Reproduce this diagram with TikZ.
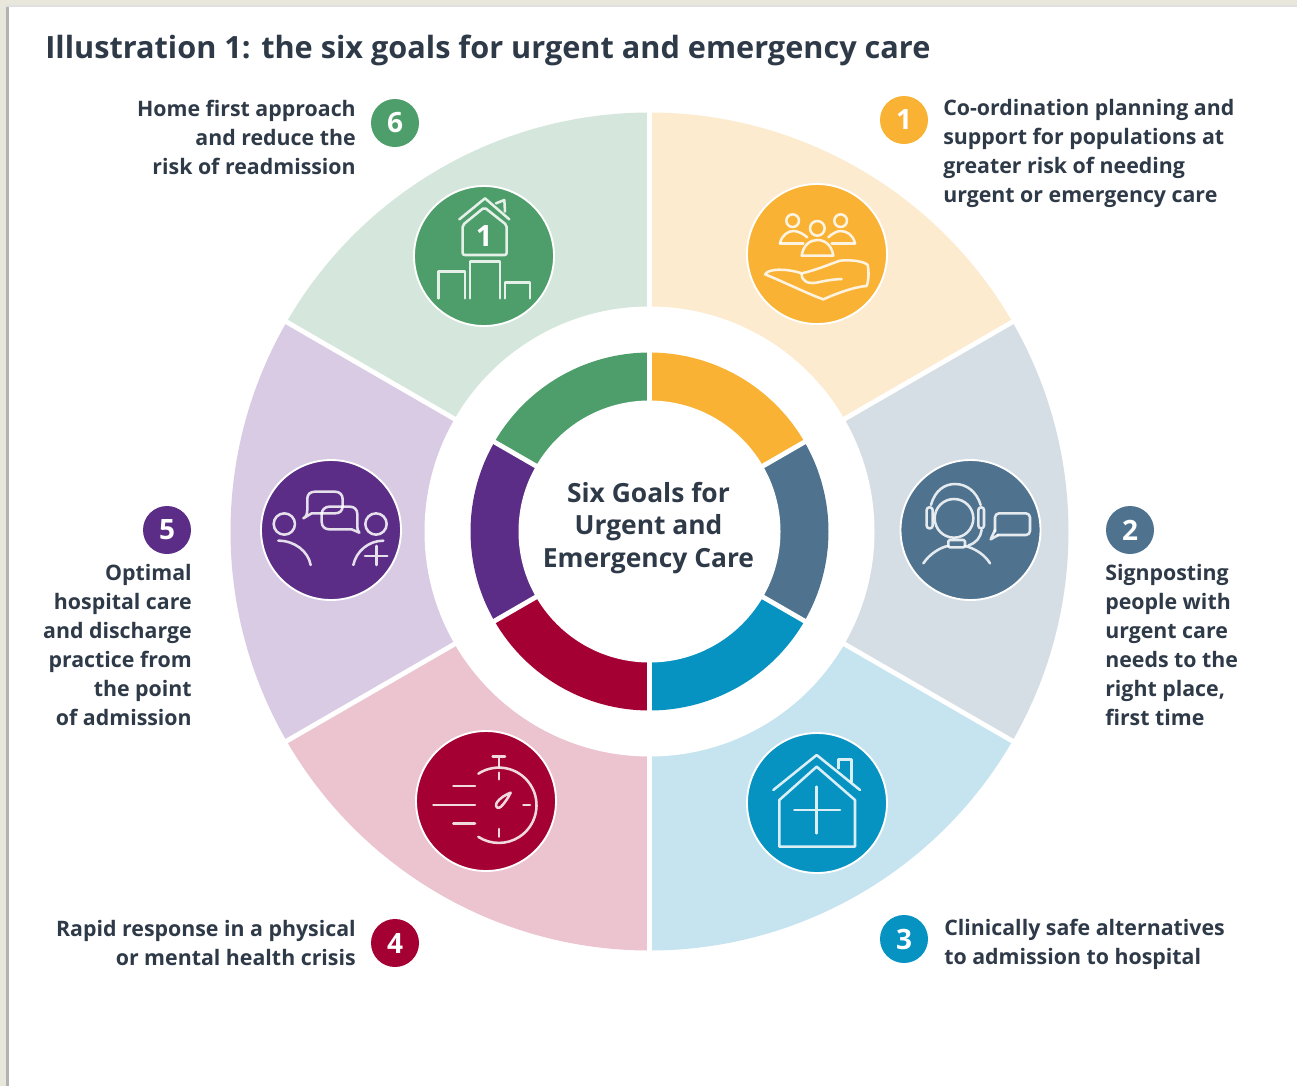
\documentclass[tikz,border=0pt]{standalone}
\usepackage{fontspec}
\setmainfont{Open Sans}
\definecolor{cyel}{HTML}{F9B233}\definecolor{lyel}{HTML}{FDEBD0}
\definecolor{csla}{HTML}{4F738F}\definecolor{lsla}{HTML}{D6DEE5}
\definecolor{cblu}{HTML}{0693C2}\definecolor{lblu}{HTML}{C5E4EF}
\definecolor{ccri}{HTML}{A50034}\definecolor{lcri}{HTML}{EBC4D0}
\definecolor{cpur}{HTML}{5B2D86}\definecolor{lpur}{HTML}{D8CBE3}
\definecolor{cgre}{HTML}{4E9E6B}\definecolor{lgre}{HTML}{D5E7DC}
\definecolor{inktext}{HTML}{2F3A48}
\definecolor{framecol}{HTML}{E9E7DC}
\tikzset{
 bodytext/.style={font=\fontsize{16pt}{21.75pt}\selectfont\bfseries,text=inktext,inner sep=0pt},
 badge/.style={circle,minimum size=36pt,inner sep=0pt,text=white,font=\fontsize{21pt}{24pt}\selectfont\bfseries},
 iconbase/.style={circle,minimum size=105pt,inner sep=0pt,draw=white,line width=1.4pt},
 iconline/.style={draw=white,draw opacity=.85,line width=1.9pt,line join=round,line cap=round,fill=none}
}
\begin{document}
\begin{tikzpicture}[x=0.75pt,y=-0.75pt]
\useasboundingbox (0,0) rectangle (1297,1086);
\fill[framecol] (0,0) rectangle (1297,1086);
\fill[black!30] (6,6) rectangle (9,1086);
\fill[black!12] (6,5) rectangle (1297,7);
\fill[white] (9,7) rectangle (1297,1086);
\node[anchor=base west,inner sep=0pt,text=inktext,font=\fontsize{23pt}{28pt}\selectfont\bfseries] (title) at (45,58) {Illustration 1: the six goals for urgent and emergency care};
\begin{scope}[shift={(649.5,531.5)}]
 \foreach \a/\l in {-90/lyel,-30/lsla,30/lblu,90/lcri,150/lpur,210/lgre}{
  \fill[\l] (0,0) -- (\a:419) arc[start angle=\a,delta angle=60,radius=419] -- cycle;}
 \foreach \a in {-90,-30,30,90,150,210}{\draw[white,line width=3.6pt] (0,0) -- (\a:425);}
 \fill[white] (0,0) circle[radius=225];
 \foreach \a/\l in {-90/cyel,-30/csla,30/cblu,90/ccri,150/cpur,210/cgre}{
  \fill[\l] (0,0) -- (\a:179) arc[start angle=\a,delta angle=60,radius=179] -- cycle;}
 \foreach \a in {-90,-30,30,90,150,210}{\draw[white,line width=3.6pt] (0,0) -- (\a:185);}
 \fill[white] (0,0) circle[radius=131];
\end{scope}
\node[align=center,inner sep=0pt,text=inktext,font=\fontsize{19.8pt}{24.6pt}\selectfont\bfseries] (centre) at (648.5,528) {Six Goals for\\Urgent and\\Emergency Care};
% icon discs
\node[iconbase,fill=cyel] (icon1) at (817,254) {};
\node[iconbase,fill=csla] (icon2) at (970.5,530) {};
\node[iconbase,fill=cblu] (icon3) at (817,803) {};
\node[iconbase,fill=ccri] (icon4) at (486,801) {};
\node[iconbase,fill=cpur] (icon5) at (331,530) {};
\node[iconbase,fill=cgre] (icon6) at (484,256) {};
% badges
\node[badge,fill=cyel] (badge1) at (904,120) {1};
\node[badge,fill=csla] (badge2) at (1130,530) {2};
\node[badge,fill=cblu] (badge3) at (904,939) {3};
\node[badge,fill=ccri] (badge4) at (395,943) {4};
\node[badge,fill=cpur] (badge5) at (167,530) {5};
\node[badge,fill=cgre] (badge6) at (395,123) {6};
% labels
\node[bodytext,align=left,anchor=north west] (text1) at (943,99.5) {Co-ordination planning and\\support for populations at\\greater risk of needing\\urgent or emergency care};
\node[bodytext,align=left,anchor=north west] (text2) at (1105,564.5) {Signposting\\people with\\urgent care\\needs to the\\right place,\\first time};
\node[bodytext,align=left,anchor=north west] (text3) at (944,918.5) {Clinically safe alternatives\\to admission to hospital};
\node[bodytext,align=right,anchor=north east] (text4) at (356,920.5) {Rapid response in a physical\\or mental health crisis};
\node[bodytext,align=right,anchor=north east] (text5) at (192,564.5) {Optimal\\hospital care\\and discharge\\practice from\\the point\\of admission};
\node[bodytext,align=right,anchor=north east] (text6) at (356,99.5) {Home first approach\\and reduce the\\risk of readmission};
% icon 1
\begin{scope}[shift={(720,160)},x=0.25pt,y=-0.25pt]
 \draw[iconline] (218,182) circle[radius=19] (362,182) circle[radius=19] (292,205) circle[radius=22];
 \draw[iconline] (180,250) .. controls (185,225) and (205,213) .. (220,213) .. controls (235,213) and (250,222) .. (262,232);
 \draw[iconline] (180,250) -- (250,250);
 \draw[iconline] (405,250) .. controls (400,225) and (380,213) .. (362,213) .. controls (350,213) and (335,222) .. (325,232);
 \draw[iconline] (335,250) -- (405,250);
 \draw[iconline] (245,287) .. controls (250,255) and (270,240) .. (292,240) .. controls (315,240) and (335,255) .. (340,287) -- cycle;
 \draw[iconline] (135,343) .. controls (145,325) and (200,325) .. (245,340) .. controls (290,330) and (330,312) .. (360,302) .. controls (395,298) and (435,305) .. (443,315) .. controls (448,340) and (445,365) .. (440,378) .. controls (405,380) and (350,400) .. (310,418) .. controls (260,400) and (190,365) .. (135,343) -- cycle;
 \draw[iconline] (245,342) .. controls (245,365) and (265,372) .. (290,368) .. controls (315,362) and (340,358) .. (365,357);
\end{scope}
% icon 6
\begin{scope}[shift={(390,170)},x=0.25pt,y=-0.25pt]
 \draw[iconline] (208,148) -- (285,85) -- (358,148);
 \draw[iconline] (318,100) -- (343,90) -- (345,125);
 \draw[iconline,rounded corners=1.5pt] (218,255) -- (218,165) -- (283,112) -- (350,165) -- (350,255) -- cycle;
 \node[text=white,font=\fontsize{22pt}{24pt}\selectfont\bfseries,inner sep=0pt] (homeone) at (283,197) {1};
 \draw[iconline] (145,385) -- (145,305) -- (225,305) -- (225,385);
 \draw[iconline] (240,385) -- (240,275) -- (330,275) -- (330,385);
 \draw[iconline] (345,385) -- (345,338) -- (420,338) -- (420,385);
\end{scope}
% icon 2
\begin{scope}[shift={(880,450)},x=0.25pt,y=-0.25pt]
 \draw[iconline] (222,205) circle[radius=58];
 \draw[iconline] (153,165) .. controls (165,120) and (195,102) .. (225,102) .. controls (260,102) and (290,125) .. (302,165);
 \draw[iconline,rounded corners=2pt] (140,172) rectangle (158,235);
 \draw[iconline,rounded corners=2pt] (295,172) rectangle (312,235);
 \draw[iconline] (305,240) .. controls (302,262) and (288,280) .. (265,286);
 \draw[iconline,rounded corners=1pt] (205,270) rectangle (255,292);
 \draw[iconline] (130,340) .. controls (150,310) and (185,290) .. (205,288);
 \draw[iconline] (255,288) .. controls (285,295) and (315,315) .. (330,340);
 \draw[iconline,rounded corners=3pt] (345,245) -- (345,190) -- (450,190) -- (450,255) -- (352,255);
 \draw[iconline] (345,240) -- (332,268) -- (355,255);
\end{scope}
% icon 5
\begin{scope}[shift={(250,450)},x=0.25pt,y=-0.25pt]
 \draw[iconline] (103,222) circle[radius=32] (378,222) circle[radius=32];
 \draw[iconline] (85,272) .. controls (135,272) and (175,305) .. (182,345);
 \draw[iconline] (400,272) .. controls (355,272) and (318,305) .. (310,345);
 \draw[iconline] (345,318) -- (412,318) (380,288) -- (380,345);
 \draw[iconline] (160,205) .. controls (170,200) and (172,190) .. (172,175) -- (172,145) .. controls (172,132) and (182,125) .. (195,125) -- (255,125) .. controls (270,125) and (278,135) .. (278,148) -- (278,167) .. controls (278,182) and (270,190) .. (255,190) -- (185,190) -- cycle;
 \draw[iconline] (328,248) .. controls (322,243) and (322,235) .. (322,225) -- (322,192) .. controls (322,178) and (312,170) .. (300,170) -- (238,170) .. controls (225,170) and (215,180) .. (215,192) -- (215,215) .. controls (215,230) and (225,238) .. (238,238) -- (305,238) -- cycle;
\end{scope}
% icon 4
\begin{scope}[shift={(400,720)},x=0.25pt,y=-0.25pt]
 \draw[iconline] (235,161) arc[start angle=-123,end angle=123,radius=113];
 \draw[iconline] (297,115) -- (297,140) (278,110) -- (315,110);
 \draw[iconline] (297,158) -- (297,178) (297,327) -- (297,350) (370,255) -- (390,255);
 \draw[iconline] (160,198) -- (225,198) (100,255) -- (225,255) (160,310) -- (225,310);
 \draw[iconline] (332,218) .. controls (320,222) and (298,235) .. (290,248) .. controls (283,262) and (295,268) .. (303,260) .. controls (315,248) and (325,232) .. (332,218) -- cycle;
\end{scope}
% icon 3
\begin{scope}[shift={(735,720)},x=0.25pt,y=-0.25pt]
 \draw[iconline] (115,210) -- (245,105) -- (375,210);
 \draw[iconline] (133,240) -- (245,140) -- (360,240) -- (360,380) -- (133,380) -- cycle;
 \draw[iconline] (310,145) -- (310,118) -- (350,118) -- (350,185);
 \draw[iconline] (178,270) -- (315,270) (245,200) -- (245,340);
\end{scope}
\end{tikzpicture}
\end{document}
